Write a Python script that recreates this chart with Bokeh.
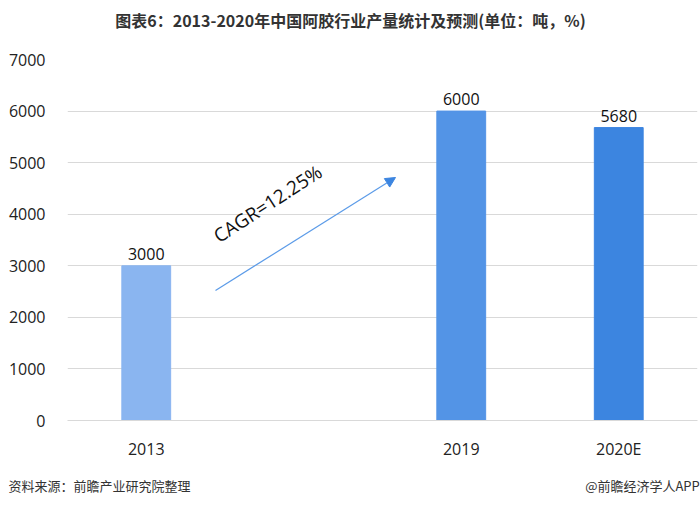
from bokeh.plotting import figure
from bokeh.models import (Range1d, ColumnDataSource, LabelSet, Label, Arrow,
                          NormalHead, LinearAxis, FixedTicker)
from bokeh.embed import file_html
from bokeh.resources import INLINE
from bokeh.core.properties import value

# ---- data ----
axis_slots = ["2013", "", "2019", "2020E"]   # one empty slot between 2013 and 2019
years = ["2013", "2019", "2020E"]
production = [3000, 6000, 5680]
value_labels = ["3000", "6000", "5680"]
bar_colors = ["#8ab5f0", "#5394e6", "#3c85e0"]
title_text = "图表6：2013-2020年中国阿胶行业产量统计及预测(单位：吨，%)"
cagr_text = "CAGR=12.25%"
source_text = "资料来源：前瞻产业研究院整理"
brand_text = "@前瞻经济学人APP"

slot_pos = [axis_slots.index(y) for y in years]
src = ColumnDataSource(dict(x=slot_pos, y=production, lab=value_labels, c=bar_colors))

p = figure(width=700, height=505, output_backend="svg", toolbar_location=None,
           x_range=Range1d(-0.5, len(axis_slots) - 0.5), y_range=Range1d(0, 7000),
           min_border_left=67, min_border_right=3, min_border_top=59, min_border_bottom=85)
p.outline_line_color = None
p.background_fill_color = "white"

p.vbar(x="x", top="y", width=0.31, color="c", source=src)

p.add_layout(LabelSet(x="x", y="y", text="lab", source=src, text_align="center",
                      text_baseline="bottom", y_offset=6, text_font=value("Open Sans"),
                      text_font_size="16px", text_color="#111111"))

# axes
p.yaxis.ticker = [0, 1000, 2000, 3000, 4000, 5000, 6000, 7000]
p.yaxis.axis_line_color = None
p.yaxis.major_tick_line_color = None
p.yaxis.minor_tick_line_color = None
p.yaxis.major_label_standoff = 16
p.yaxis.major_label_text_font = "Open Sans"
p.yaxis.major_label_text_font_size = "16px"
p.yaxis.major_label_text_color = "#222222"
p.xaxis.ticker = FixedTicker(ticks=slot_pos)
p.xaxis.major_label_overrides = {x: y for x, y in zip(slot_pos, years)}
p.xaxis.axis_line_color = "#d9d9d9"
p.xaxis.major_tick_line_color = None
p.xaxis.minor_tick_line_color = None
p.xaxis.major_label_standoff = 11
p.xaxis.major_label_text_font = "Open Sans"
p.xaxis.major_label_text_font_size = "16px"
p.xaxis.major_label_text_color = "#222222"
p.xgrid.grid_line_color = None
p.ygrid.grid_line_color = "#d9d9d9"

# CAGR arrow and text
p.add_layout(Arrow(x_start=215, y_start=290, x_end=395, y_end=177,
                   start_units="canvas", end_units="canvas",
                   line_color="#5b9be8", line_width=1.2,
                   end=NormalHead(size=10, fill_color="#3c85e0", line_color="#3c85e0")))
p.add_layout(Label(x=222, y=248, x_units="canvas", y_units="canvas", text=cagr_text,
                   angle=33, angle_units="deg", text_font="Open Sans",
                   text_font_size="19px", text_color="#111111", text_baseline="bottom"))

# title and footer as label-only axes on a pixel-like range
p.extra_x_ranges = {"px": Range1d(67, 697)}

def text_axis(ticks, texts, standoff, size, bold=False):
    ax = LinearAxis(x_range_name="px", ticker=FixedTicker(ticks=ticks),
                    major_label_overrides={t: s for t, s in zip(ticks, texts)})
    ax.axis_line_color = None
    ax.major_tick_line_color = None
    ax.minor_tick_line_color = None
    ax.major_label_standoff = standoff
    ax.major_label_text_font = "Noto Sans CJK SC"
    ax.major_label_text_font_size = size
    ax.major_label_text_color = "#333333"
    if bold:
        ax.major_label_text_font_style = "bold"
    return ax

p.add_layout(text_axis([350], [title_text], 22, "16px", bold=True), "above")
p.add_layout(text_axis([99, 642], [source_text, brand_text], 7, "13px"), "below")

open("out.html", "w").write(file_html(p, INLINE))
